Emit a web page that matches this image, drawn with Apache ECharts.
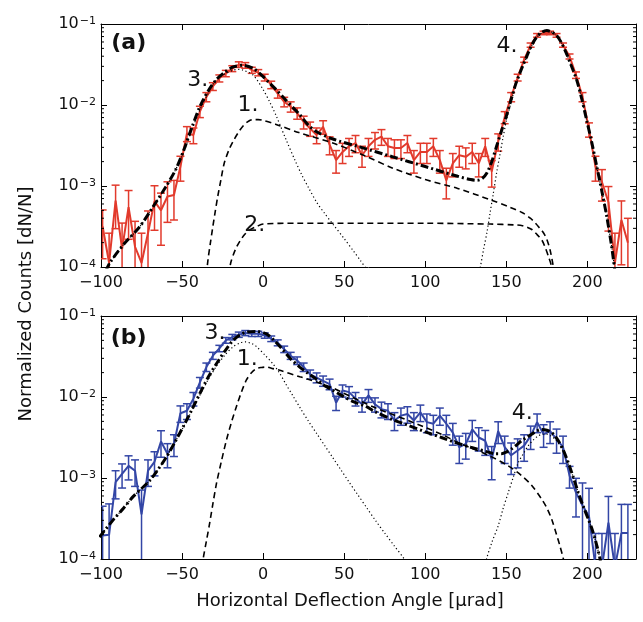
<!DOCTYPE html>
<html>
<head>
	<meta charset="UTF-8">
	<title>Horizontal deflection</title>
	<script src="https://cdn.jsdelivr.net/npm/echarts@6.0.0/dist/echarts.min.js"></script>
	<style>
		html, body { margin: 0; padding: 0; background: #fff; }
		#main { width: 643px; height: 622px; }
	</style>
</head>
<body>
<div id="main"></div>
<script type="text/javascript">
// bin centres (urad), same for both panels
var angles = [-99,-95,-91,-87,-83,-79,-75,-71,-67,-63,-59,-55,-51,-47,-43,-39,-35,-31,-27,-23,
	-19,-15,-11,-7,-3,1,5,9,13,17,21,25,29,33,37,41,45,49,53,57,61,65,69,73,77,81,85,89,93,97,
	101,105,109,113,117,121,125,129,133,137,141,145,149,153,157,161,165,169,173,177,181,185,189,193,197,
	201,205,209,213,217,221,225];

// panel (a): log10 of dN/N and relative error
var logA = [-3.50,-3.95,-3.18,-3.78,-3.26,-3.75,-3.95,-3.58,-3.19,-3.30,
	-3.13,-3.11,-2.76,-2.35,-2.37,-2.08,-1.90,-1.77,-1.67,-1.61,
	-1.55,-1.50,-1.51,-1.57,-1.60,-1.66,-1.75,-1.86,-1.96,-2.02,
	-2.10,-2.21,-2.29,-2.37,-2.27,-2.49,-2.68,-2.58,-2.51,-2.47,
	-2.62,-2.51,-2.43,-2.39,-2.51,-2.53,-2.53,-2.47,-2.68,-2.58,
	-2.58,-2.51,-2.68,-2.93,-2.72,-2.62,-2.64,-2.58,-2.72,-2.51,
	-2.82,-2.45,-2.15,-1.90,-1.66,-1.44,-1.26,-1.14,-1.11,-1.11,
	-1.14,-1.26,-1.40,-1.63,-1.90,-2.30,-2.76,-2.95,-3.20,-3.95,
	-3.42,-3.70];
var errA = [0.60,1.33,0.55,1.10,0.60,1.06,1.33,0.87,0.56,0.63,
	0.52,0.51,0.34,0.21,0.22,0.16,0.13,0.11,0.10,0.09,
	0.084,0.079,0.08,0.086,0.089,0.096,0.106,0.12,0.135,0.145,
	0.16,0.18,0.20,0.22,0.19,0.25,0.31,0.28,0.25,0.24,
	0.29,0.25,0.23,0.22,0.25,0.26,0.26,0.24,0.31,0.28,
	0.28,0.25,0.31,0.41,0.32,0.29,0.29,0.28,0.32,0.25,
	0.36,0.24,0.17,0.13,0.096,0.074,0.06,0.052,0.05,0.05,
	0.052,0.06,0.071,0.092,0.13,0.20,0.34,0.42,0.56,1.33,
	0.72,1.0];

// panel (b)
var logB = [-3.71,-3.70,-3.05,-2.95,-2.85,-2.91,-3.45,-2.91,-2.80,-2.55,
	-2.70,-2.58,-2.20,-2.17,-2.02,-1.82,-1.63,-1.49,-1.40,-1.30,
	-1.26,-1.23,-1.21,-1.22,-1.22,-1.24,-1.28,-1.33,-1.41,-1.49,
	-1.55,-1.63,-1.72,-1.76,-1.80,-1.84,-2.07,-1.92,-1.94,-2.02,
	-2.09,-1.98,-2.09,-2.15,-2.17,-2.29,-2.23,-2.21,-2.29,-2.19,
	-2.31,-2.33,-2.23,-2.33,-2.44,-2.62,-2.58,-2.40,-2.50,-2.54,
	-2.77,-2.42,-2.62,-2.72,-2.66,-2.60,-2.48,-2.31,-2.46,-2.42,
	-2.52,-2.62,-2.97,-3.18,-3.34,-3.47,-4.10,-4.10,-3.55,-4.10,
	-3.68,-3.68];
var errB = [1.3,1.4,0.38,0.33,0.33,0.36,1.0,0.36,0.33,0.36,
	0.33,0.30,0.23,0.22,0.19,0.15,0.12,0.10,0.091,0.081,
	0.078,0.075,0.073,0.074,0.074,0.076,0.079,0.084,0.092,0.10,
	0.108,0.12,0.13,0.14,0.145,0.15,0.20,0.17,0.17,0.19,
	0.20,0.18,0.20,0.22,0.22,0.25,0.24,0.23,0.25,0.23,
	0.26,0.27,0.24,0.27,0.30,0.37,0.35,0.29,0.32,0.34,
	0.44,0.30,0.37,0.42,0.39,0.36,0.32,0.26,0.31,0.30,
	0.33,0.37,0.30,0.50,0.90,1.2,1.6,1.6,1.1,1.6,
	1.26,1.26];

// fit curves, [angle, log10 value]
var totalA = [[-97,-4.05],[-94.6,-3.95],[-86,-3.72],[-76,-3.50],[-68,-3.26],[-60,-3.01],[-54,-2.80],[-49,-2.56],[-44,-2.28],[-39,-2.02],
	[-34,-1.83],[-29,-1.69],[-24,-1.60],[-18.5,-1.53],[-12.3,-1.51],[-6,-1.55],[0,-1.65],[4,-1.73],[8,-1.81],[14,-1.94],
	[22.6,-2.12],[28,-2.25],[33,-2.33],[43,-2.42],[60,-2.52],[80,-2.64],[100,-2.76],[120,-2.88],[128,-2.92],[132,-2.93],
	[135,-2.91],[138,-2.84],[141,-2.70],[144,-2.51],[147,-2.32],[150,-2.14],[153,-1.93],[156,-1.73],[159.5,-1.55],[162.6,-1.40],
	[165.5,-1.27],[168.7,-1.16],[172,-1.10],[175,-1.08],[178,-1.10],[181,-1.14],[184,-1.23],[187,-1.36],[190,-1.51],[193.4,-1.69],
	[196.5,-1.92],[199.6,-2.19],[202.7,-2.46],[205.8,-2.76],[209,-3.07],[212,-3.38],[215,-3.75],[217,-4.05]];
var peak3A = [[-97,-4.05],[-94.6,-3.95],[-86,-3.72],[-76,-3.50],[-68,-3.26],[-60,-3.01],[-54,-2.80],[-49,-2.58],[-44,-2.31],[-39,-2.06],
	[-34,-1.86],[-29,-1.69],[-24,-1.62],[-18.5,-1.57],[-15,-1.56],[-12.3,-1.57],[-6.2,-1.63],[0,-1.81],[4,-1.96],[8.2,-2.14],
	[14.4,-2.44],[19.6,-2.68],[24,-2.87],[28,-3.02],[33,-3.20],[38,-3.34],[43,-3.47],[50,-3.65],[56,-3.81],[60,-3.92],[64,-4.03]];
var comp1A = [[-35,-4.1],[-34,-3.91],[-32.5,-3.70],[-31,-3.50],[-29.5,-3.31],[-28,-3.13],[-26,-2.92],[-24,-2.72],[-21,-2.55],[-18,-2.43],
	[-15,-2.33],[-12,-2.25],[-9,-2.20],[-6,-2.18],[-3,-2.18],[0,-2.19],[8,-2.24],[22,-2.34],[43,-2.47],[62,-2.62],
	[80,-2.78],[100,-2.92],[120,-3.03],[140,-3.17],[152,-3.26],[160,-3.33],[165,-3.40],[168,-3.46],[171,-3.53],[173,-3.58],
	[175,-3.66],[177,-3.79],[179,-4.0],[180,-4.2]];
var comp2A = [[-21,-4.1],[-20,-3.95],[-17,-3.78],[-14,-3.67],[-11,-3.59],[-8,-3.54],[-4,-3.50],[0,-3.47],[20,-3.46],[60,-3.46],
	[100,-3.46],[140,-3.47],[155,-3.48],[160,-3.49],[163,-3.51],[166,-3.54],[169,-3.60],[172,-3.67],[174,-3.76],[176,-3.87],
	[178,-4.0],[179,-4.2]];
var peak4A = [[133,-4.1],[134,-4.0],[136,-3.78],[138,-3.58],[140,-3.33],[142,-3.09],[144,-2.84],[146,-2.62],[148,-2.40],[150,-2.20],
	[153,-1.96],[156,-1.75],[159.5,-1.56],[162.6,-1.41],[165.5,-1.28],[168.7,-1.17],[172,-1.11],[175,-1.09],[178,-1.10],[181,-1.14],
	[184,-1.23],[187,-1.36],[190,-1.51],[193.4,-1.69],[196.5,-1.92],[199.6,-2.19],[202.7,-2.46],[205.8,-2.76],[209,-3.07],[212,-3.38],
	[215,-3.75],[217,-4.05]];

var totalB = [[-101,-3.73],[-92.6,-3.52],[-86,-3.37],[-80.2,-3.23],[-75,-3.13],[-69.9,-3.03],[-65,-2.90],[-59.6,-2.74],[-54.5,-2.56],[-49.4,-2.37],
	[-44,-2.16],[-39.1,-1.96],[-34,-1.76],[-28.8,-1.59],[-23.5,-1.43],[-18.5,-1.30],[-14,-1.23],[-10.3,-1.20],[-4.1,-1.19],[2,-1.22],
	[7.2,-1.31],[12.3,-1.42],[17,-1.53],[22.6,-1.63],[27.8,-1.71],[32.9,-1.78],[38,-1.86],[43.2,-1.92],[48.3,-1.98],[56,-2.06],
	[63.8,-2.12],[68.9,-2.18],[80,-2.28],[89.5,-2.35],[100,-2.43],[110,-2.50],[118.3,-2.56],[128,-2.62],[138.9,-2.68],[143,-2.70],
	[147.1,-2.70],[150,-2.68],[153.3,-2.64],[156.5,-2.59],[159.4,-2.54],[162.5,-2.50],[165.6,-2.46],[168.7,-2.42],[171.8,-2.40],[175,-2.41],
	[178,-2.44],[180,-2.48],[182.1,-2.54],[185,-2.65],[188.2,-2.81],[191.3,-2.99],[194.4,-3.18],[197.5,-3.35],[200.6,-3.51],[202.7,-3.62],
	[204.7,-3.75],[206.3,-3.87],[207.8,-4.0],[208.5,-4.1]];
var peak3B = [[-101,-3.73],[-92.6,-3.52],[-86,-3.37],[-80.2,-3.23],[-75,-3.13],[-69.9,-3.03],[-65,-2.90],[-59.6,-2.74],[-54.5,-2.56],[-49.4,-2.38],
	[-44,-2.17],[-39.1,-1.98],[-34,-1.79],[-28.8,-1.62],[-23.5,-1.48],[-18.5,-1.38],[-14,-1.33],[-11,-1.32],[-7,-1.34],[-4,-1.38],
	[1,-1.48],[6,-1.59],[10,-1.70],[14,-1.84],[18.5,-1.99],[23,-2.14],[28,-2.30],[33,-2.45],[38,-2.60],[43,-2.75],
	[48,-2.90],[53,-3.05],[58.5,-3.21],[64,-3.37],[69.5,-3.53],[75,-3.68],[81,-3.84],[87,-4.0],[89,-4.1]];
var comp1B = [[-37.5,-4.1],[-37,-4.0],[-35,-3.78],[-33,-3.56],[-31,-3.32],[-28.8,-3.07],[-25.7,-2.79],[-22.6,-2.53],[-19.5,-2.31],[-16.5,-2.12],
	[-13.4,-1.94],[-10.3,-1.79],[-7.2,-1.70],[-4.1,-1.65],[-1,-1.635],[2,-1.63],[6,-1.65],[10.3,-1.67],[22.6,-1.75],[27.8,-1.78],
	[43.2,-1.89],[48.3,-1.94],[68.9,-2.13],[89.5,-2.29],[110,-2.46],[120,-2.56],[138.9,-2.72],[151.2,-2.85],[159.4,-2.97],[165.6,-3.09],
	[171.8,-3.26],[175,-3.37],[178,-3.51],[181,-3.70],[183.1,-3.84],[185.2,-4.0],[186,-4.1]];
var peak4B = [[137,-4.1],[137.8,-4.0],[141,-3.80],[145,-3.59],[148,-3.38],[151.2,-3.18],[154.3,-2.99],[157.4,-2.81],[160.5,-2.70],[163.6,-2.60],
	[166.7,-2.53],[169.7,-2.48],[172.3,-2.46],[174.9,-2.46],[177.5,-2.48],[180,-2.52],[182.1,-2.57],[185,-2.67],[188.2,-2.82],[191.3,-2.99],
	[194.4,-3.18],[197.5,-3.35],[200.6,-3.51],[202.7,-3.62],[204.7,-3.75],[206.3,-3.87],[207.8,-4.0],[208.5,-4.1]];

// annotations: text, angle, value
var notesA = [['(a)', -82.9, 0.0575], ['3.', -40.3, 0.0204], ['1.', -9.4, 0.0100], ['2.', -5.1, 3.3e-4], ['4.', 150.4, 0.0525]];
var notesB = [['(b)', -82.9, 0.0537], ['3.', -29.7, 0.0615], ['1.', -9.8, 0.0292], ['4.', 159.8, 0.0063]];

// minor ticks of the log axis
var minorTicks = [2e-4,3e-4,4e-4,5e-4,6e-4,7e-4,8e-4,9e-4,2e-3,3e-3,4e-3,5e-3,6e-3,7e-3,8e-3,9e-3,
	2e-2,3e-2,4e-2,5e-2,6e-2,7e-2,8e-2,9e-2];

var FONT = 'DejaVu Sans';
var RED = '#e23a2c';
var BLUE = '#3346a6';

function pow10(p) { return [p[0], Math.pow(10, p[1])]; }

function fmtX(v) {
	return v < 0 ? '\u2212' + (-v) : String(v);
}
function fmtY(v) {
	var e = Math.round(Math.log10(v));
	return '{b|10}{s|' + (e < 0 ? '\u2212' + (-e) : e) + '}';
}

function xAxes(gi) {
	var base = {
		gridIndex: gi, type: 'value', min: -100, max: 230, interval: 50,
		axisLine: { onZero: false, lineStyle: { color: '#000', width: 1 } },
		axisTick: { inside: true, length: 6, lineStyle: { color: '#000', width: 1 } },
		splitLine: { show: false }
	};
	var bottom = Object.assign({}, base, {
		position: 'bottom',
		axisLabel: { margin: 8, fontSize: 16, fontFamily: FONT, color: '#111', showMaxLabel: false, formatter: fmtX }
	});
	var top = Object.assign({}, base, { position: 'top', axisLabel: { show: false } });
	return [bottom, top];
}
function yAxes(gi) {
	var base = {
		gridIndex: gi, type: 'log', logBase: 10, min: 1e-4, max: 1e-1,
		axisLine: { onZero: false, lineStyle: { color: '#000', width: 1 } },
		axisTick: { inside: true, length: 6, lineStyle: { color: '#000', width: 1 } },
		splitLine: { show: false }
	};
	var left = Object.assign({}, base, {
		position: 'left',
		axisLabel: {
			margin: 5, formatter: fmtY,
			rich: {
				b: { fontSize: 16, fontFamily: FONT, color: '#111' },
				s: { fontSize: 11, fontFamily: FONT, color: '#111', verticalAlign: 'top', padding: [0, 0, 6, 1] }
			}
		}
	});
	var right = Object.assign({}, base, { position: 'right', axisLabel: { show: false } });
	return [left, right];
}

function renderBars(params, api) {
	var cs = params.coordSys;
	var x = api.value(0);
	var top = api.coord([x, api.value(2)]);
	var bot = api.coord([x, api.value(1)]);
	var y0 = Math.max(top[1], cs.y), y1 = Math.min(bot[1], cs.y + cs.height);
	var style = { stroke: api.visual('color'), lineWidth: 1.5 };
	var kids = [{ type: 'line', shape: { x1: top[0], y1: y0, x2: top[0], y2: y1 }, style: style }];
	if (top[1] >= cs.y) kids.push({ type: 'line', shape: { x1: top[0] - 4, y1: top[1], x2: top[0] + 4, y2: top[1] }, style: style });
	if (bot[1] <= cs.y + cs.height) kids.push({ type: 'line', shape: { x1: bot[0] - 4, y1: bot[1], x2: bot[0] + 4, y2: bot[1] }, style: style });
	return { type: 'group', children: kids };
}

function renderMinor(params, api) {
	var cs = params.coordSys;
	var y = api.coord([0, api.value(1)])[1];
	var style = { stroke: '#000', lineWidth: 1 };
	return { type: 'group', children: [
		{ type: 'line', shape: { x1: cs.x, y1: y, x2: cs.x + 3, y2: y }, style: style },
		{ type: 'line', shape: { x1: cs.x + cs.width - 3, y1: y, x2: cs.x + cs.width, y2: y }, style: style }
	] };
}

function noteRenderer(notes) {
	return function (params, api) {
		var n = notes[params.dataIndex];
		var p = api.coord([api.value(0), api.value(1)]);
		var bold = n[0].charAt(0) === '(';
		return { type: 'text', x: p[0], y: p[1], style: {
			text: n[0], align: 'center', verticalAlign: 'middle', fill: '#111',
			font: (bold ? 'bold ' : '') + '22px "DejaVu Sans"' } };
	};
}

var totalStyle = { color: '#000', width: 3, type: [8, 3, 2, 3] };
var dashStyle = { color: '#000', width: 1.6, type: [6, 4] };
var dotStyle = { color: '#000', width: 1.2, type: [1.2, 2.6] };

function panelSeries(xi, yi, logs, errs, color, curves, notes) {
	var out = [];
	var pts = angles.map(function (a, i) { return [a, Math.pow(10, logs[i])]; });
	var bars = angles.map(function (a, i) {
		var v = Math.pow(10, logs[i]);
		return [a, Math.max(v * (1 - errs[i]), 1e-7), v * (1 + errs[i])];
	});
	out.push({ type: 'line', xAxisIndex: xi, yAxisIndex: yi, data: pts, symbol: 'none', color: color,
		lineStyle: { color: color, width: 2 }, z: 2, silent: true });
	out.push({ type: 'custom', xAxisIndex: xi, yAxisIndex: yi, data: bars, renderItem: renderBars,
		color: color, encode: { x: 0, y: [1, 2] }, z: 2, silent: true, clip: true });
	curves.forEach(function (c) {
		out.push({ type: 'line', xAxisIndex: xi, yAxisIndex: yi, data: c[0].map(pow10), symbol: 'none',
			smooth: 0.3, lineStyle: c[1], z: c[2], silent: true });
	});
	out.push({ type: 'custom', xAxisIndex: xi, yAxisIndex: yi, data: minorTicks.map(function (v) { return [0, v]; }),
		renderItem: renderMinor, encode: { x: 0, y: 1 }, z: 6, silent: true });
	out.push({ type: 'custom', xAxisIndex: xi, yAxisIndex: yi, z: 7, silent: true,
		data: notes.map(function (n) { return [n[1], n[2]]; }),
		encode: { x: 0, y: 1 }, renderItem: noteRenderer(notes) });
	return out;
}

var chart = echarts.init(document.getElementById('main'));
var option = {
	animation: false,
	backgroundColor: '#fff',
	grid: [
		{ left: 101, top: 24, width: 535, height: 243 },
		{ left: 101, top: 316, width: 535, height: 243 }
	],
	xAxis: xAxes(0).concat(xAxes(1)),
	yAxis: yAxes(0).concat(yAxes(1)),
	series: [].concat(
		panelSeries(0, 0, logA, errA, RED,
			[[peak3A, dotStyle, 3], [peak4A, dotStyle, 3], [comp1A, dashStyle, 4], [comp2A, dashStyle, 4], [totalA, totalStyle, 5]], notesA),
		panelSeries(2, 2, logB, errB, BLUE,
			[[peak3B, dotStyle, 3], [peak4B, dotStyle, 3], [comp1B, dashStyle, 4], [totalB, totalStyle, 5]], notesB)
	),
	graphic: [
		{ type: 'text', x: 26, y: 304, rotation: Math.PI / 2, style: { text: 'Normalized Counts [dN/N]', x: 0, y: 0,
			align: 'center', verticalAlign: 'middle', fill: '#111', font: '18px "DejaVu Sans"' } },
		{ type: 'text', x: 350, y: 601, style: { text: 'Horizontal Deflection Angle [\u00b5rad]', x: 0, y: 0,
			align: 'center', verticalAlign: 'middle', fill: '#111', font: '18px "DejaVu Sans"' } }
	]
};
chart.setOption(option);
</script>
</body>
</html>
